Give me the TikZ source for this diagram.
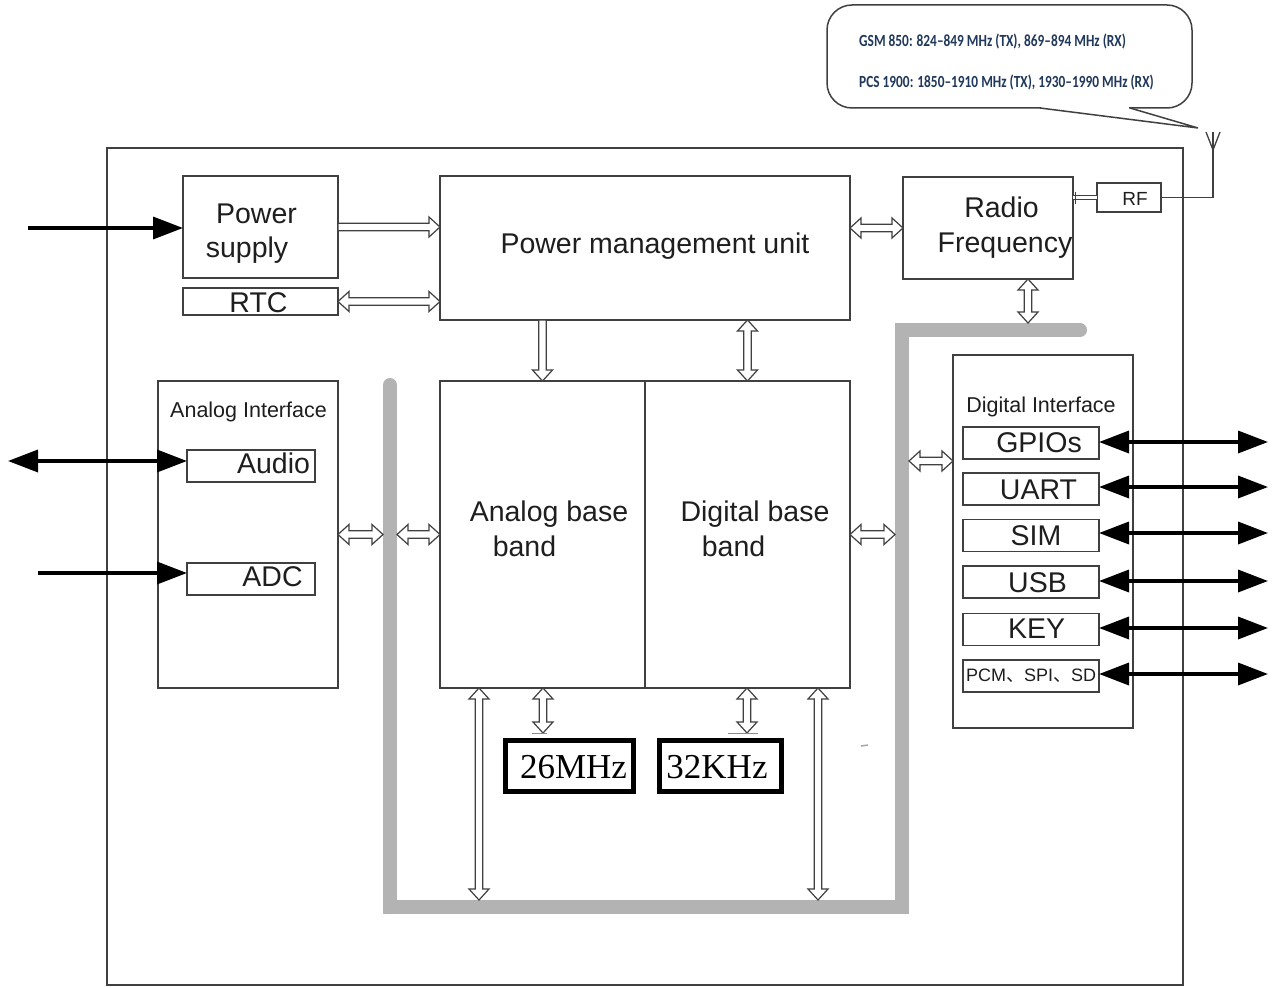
\documentclass[tikz,border=0pt]{standalone}
\usepackage{fontspec}
\usepackage{graphicx}
\setmainfont{Liberation Sans}
\newfontfamily\serifx{Liberation Serif}
\newfontfamily\calib{Carlito}[BoldFont={Carlito Bold}]
\newfontfamily\cjk{Noto Sans CJK SC}
\usetikzlibrary{arrows.meta,calc}
\newcommand\fs[1]{\fontsize{#1}{#1}\selectfont}
\newlength\arrS \setlength\arrS{3.8pt}
\newlength\arrW \setlength\arrW{10pt}
\newlength\arrL \setlength\arrL{11pt}
\definecolor{busgray}{RGB}{179,179,179}
\definecolor{ln}{RGB}{64,64,64}
\definecolor{txt}{RGB}{30,30,30}
\definecolor{navy}{RGB}{32,56,92}
\tikzset{
  box/.style={draw=ln, line width=1.5pt, inner sep=0pt, outer sep=0pt},
  lbl/.style={inner sep=0pt, text=txt, font=\fs{28.5}, text height=20.4pt, text depth=0pt},
  small/.style={inner sep=0pt, text=txt, font=\fs{21.5}, text height=15.4pt, text depth=0pt},
  xtal/.style={draw=black, line width=5pt, inner sep=0pt, outer sep=0pt},
  xlbl/.style={inner sep=0pt, text=black, font=\serifx\fs{35}, text height=23.2pt, text depth=0pt},
  hollow/.style={draw=ln, line width=1.2pt, fill=white, line join=miter},
  blk/.style={line width=3.5pt, draw=black, >={Triangle[length=30pt,width=22pt]}},
  bus/.style={draw=busgray, line width=14pt, line join=miter},
  note/.style={anchor=west, inner sep=0pt, text=navy, font=\calib\bfseries\fs{17}}
}
% horizontal double-headed hollow arrow: #1 left tip, #2 right tip
\newcommand\hdarrow[2]{\draw[hollow] let \p1=(#1), \p2=(#2), \n1={\x2-\x1-2*\arrL} in
  (\x1,\y1) -- ++(\arrL,\arrW) -- ++(0pt,\arrS-\arrW) -- ++(\n1,0pt) -- ++(0pt,\arrW-\arrS)
  -- (\x2,\y1) -- ++(-\arrL,-\arrW) -- ++(0pt,\arrW-\arrS) -- ++(-\n1,0pt) -- ++(0pt,\arrS-\arrW) -- cycle;}
% vertical double-headed hollow arrow: #1 top tip, #2 bottom tip
\newcommand\vdarrow[2]{\draw[hollow] let \p1=(#1), \p2=(#2), \n1={\y1-\y2-2*\arrL} in
  (\x1,\y1) -- ++(\arrW,-\arrL) -- ++(\arrS-\arrW,0pt) -- ++(0pt,-\n1) -- ++(\arrW-\arrS,0pt)
  -- (\x1,\y2) -- ++(-\arrW,\arrL) -- ++(\arrW-\arrS,0pt) -- ++(0pt,\n1) -- ++(\arrS-\arrW,0pt) -- cycle;}
% horizontal single hollow arrow pointing right: #1 tail, #2 tip
\newcommand\hrarrow[2]{\draw[hollow] let \p1=(#1), \p2=(#2) in
  (\x1,\y1+\arrS) -- (\x2-\arrL,\y1+\arrS) -- (\x2-\arrL,\y1+\arrW) -- (\x2,\y1)
  -- (\x2-\arrL,\y1-\arrW) -- (\x2-\arrL,\y1-\arrS) -- (\x1,\y1-\arrS) -- cycle;}
% vertical single hollow arrow pointing down: #1 tail, #2 tip
\newcommand\vdnarrow[2]{\draw[hollow] let \p1=(#1), \p2=(#2) in
  (\x1-\arrS,\y1) -- (\x1-\arrS,\y2+\arrL) -- (\x1-\arrW,\y2+\arrL) -- (\x1,\y2)
  -- (\x1+\arrW,\y2+\arrL) -- (\x1+\arrS,\y2+\arrL) -- (\x1+\arrS,\y1) -- cycle;}
\begin{document}
\begin{tikzpicture}[x=1pt,y=-1pt]
\useasboundingbox (0,0) rectangle (1273,987);
\fill[white] (0,0) rectangle (1273,987);

% outer frame
\node[box, minimum width=1076pt, minimum height=837pt] (frame) at (645,566.5) {};

% callout
\draw[ln, line width=1.5pt, fill=white, rounded corners=25pt] (827,5) rectangle (1192,108);
\fill[white] (1041,104) rectangle (1129,110);
\draw[ln, line width=1.5pt, line join=miter] (1040,108) -- (1198,128) -- (1130,108);
\node[note] (gsm) at (859,41)
  {\scalebox{0.785}[1]{GSM 850: 824–849 MHz (TX), 869–894 MHz (RX)}};
\node[note] (pcs) at (859,82)
  {\scalebox{0.785}[1]{PCS 1900: 1850–1910 MHz (TX), 1930–1990 MHz (RX)}};

% gray bus
\coordinate (busTop) at (390,385);
\coordinate (busBL) at (390,907);
\coordinate (busBR) at (902,907);
\coordinate (busTR) at (902,330);
\coordinate (busEnd) at (1080,330);
\draw[bus, line cap=round] (busTop) -- (busBL);
\draw[bus, line cap=round] (busTR) -- (busEnd);
\draw[bus] (busTop) -- (busBL) -- (busBR) -- (busTR) -- ($(busTR)+(20,0)$);

% boxes
\node[box, minimum width=155pt, minimum height=102pt] (ps) at (260.5,227) {};
\node[box, minimum width=155pt, minimum height=27pt] (rtc) at (260.5,301.5) {};
\node[box, minimum width=410pt, minimum height=144pt] (pmu) at (645,248) {};
\node[box, minimum width=170pt, minimum height=102pt] (rf) at (988,228) {};
\node[box, minimum width=64pt, minimum height=29pt] (rfs) at (1129,197.5) {};
\node[box, minimum width=180pt, minimum height=307pt] (ai) at (248,534.5) {};
\node[box, minimum width=128pt, minimum height=32pt] (audio) at (251,466) {};
\node[box, minimum width=128pt, minimum height=32pt] (adc) at (251,579) {};
\node[box, minimum width=205pt, minimum height=307pt] (abb) at (542.5,534.5) {};
\node[box, minimum width=205pt, minimum height=307pt] (dbb) at (747.5,534.5) {};
\node[box, minimum width=180pt, minimum height=373pt] (di) at (1043,541.5) {};
\node[box, minimum width=136pt, minimum height=32pt] (gpio) at (1031,443) {};
\node[box, minimum width=136pt, minimum height=32pt] (uart) at (1031,489) {};
\node[box, minimum width=136pt, minimum height=32pt] (sim) at (1031,535.5) {};
\node[box, minimum width=136pt, minimum height=32pt] (usb) at (1031,582) {};
\node[box, minimum width=136pt, minimum height=32pt] (key) at (1031,629.5) {};
\node[box, minimum width=136pt, minimum height=32pt] (pcm) at (1031,676) {};
\node[xtal, minimum width=128pt, minimum height=51pt] (x26) at (569.5,766) {};
\node[xtal, minimum width=122pt, minimum height=51pt] (x32) at (720.5,766) {};

% labels
\node[lbl] (tpower) at (256.5,213) {Power};
\node[lbl] (tsupply) at (247,247) {supply};
\node[lbl] (trtc) at (258.5,302.5) {RTC};
\node[lbl] (tpmu) at (655,243.5) {Power management unit};
\node[lbl] (tradio) at (1001.5,207.5) {Radio};
\node[lbl] (tfreq) at (1005,242) {Frequency};
\node[inner sep=0pt, text=txt, font=\fs{19}, text height=13.6pt, text depth=0pt] (trf) at (1135,198.5) {RF};
\node[small] (tai) at (248.5,409.5) {Analog Interface};
\node[lbl] (taudio) at (273.5,463) {Audio};
\node[lbl] (tadc) at (272.5,576.5) {ADC};
\node[lbl] (tabb1) at (549,511) {Analog base};
\node[lbl] (tabb2) at (524.5,546) {band};
\node[lbl] (tdbb1) at (755,511) {Digital base};
\node[lbl] (tdbb2) at (733.5,546) {band};
\node[small] (tdi) at (1041,404.5) {Digital Interface};
\node[lbl] (tgpio) at (1039,442) {GPIOs};
\node[lbl] (tuart) at (1038.5,489.5) {UART};
\node[lbl] (tsim) at (1036,535.5) {SIM};
\node[lbl] (tusb) at (1037.5,582) {USB};
\node[lbl] (tkey) at (1036.5,628) {KEY};
\node[inner sep=0pt, text=txt, font=\fs{18}, text height=12.9pt, text depth=0pt] (tpcm) at (1031,675) {PCM{\cjk 、}SPI{\cjk 、}SD};
\node[xlbl] (t26) at (573.5,766.5) {26MHz};
\node[xlbl] (t32) at (717,766.5) {32KHz};

% black arrows
\coordinate (psL) at (28,228);
\coordinate (audL) at (8,461);
\coordinate (adcL) at (38,573);
\coordinate (dend) at (1268,0);
\draw[blk,->] (psL) -- (ps.west |- psL);
\draw[blk,<->] (audL) -- (audio.west |- audL);
\draw[blk,->] (adcL) -- (adc.west |- adcL);
\foreach \b/\dy in {gpio/-1,uart/-2,sim/-2.5,usb/-1,key/-1.5,pcm/-2}
  \draw[blk,<->] ($(\b.east)+(0,\dy)$) -- ($(\b.east -| dend)+(0,\dy)$);

% hollow arrows
\coordinate (rfbus) at (1028,323);
\coordinate (busA) at (383,534.5);
\coordinate (busB) at (397,534.5);
\coordinate (busC) at (895,534.5);
\coordinate (busD) at (909,461);
\coordinate (bbusA) at (479,900);
\coordinate (bbusB) at (818,900);
\coordinate (x26a) at (543,733);
\coordinate (x32a) at (747,733);
\hrarrow{ps.east}{pmu.west |- ps.east}
\hdarrow{rtc.east}{pmu.west |- rtc.east}
\hdarrow{pmu.east |- rf.west}{rf.west}
\vdarrow{rf.south -| rfbus}{rfbus}
\vdnarrow{abb.north |- pmu.south}{abb.north}
\vdarrow{dbb.north |- pmu.south}{dbb.north}
\hdarrow{ai.east}{busA}
\hdarrow{busB}{abb.west}
\hdarrow{dbb.east}{busC}
\hdarrow{busD}{di.west |- busD}
\vdarrow{abb.south -| bbusA}{bbusA}
\vdarrow{dbb.south -| bbusB}{bbusB}
\vdarrow{abb.south -| x26a}{x26a}
\vdarrow{dbb.south -| x32a}{x32a}

% small marks
\draw[black!45, line width=1pt] ($(x26a)+(-11,0.5)$) -- ($(x26a)+(4,0.5)$);
\draw[black!45, line width=1pt] ($(x32a)+(-19,0.5)$) -- ($(x32a)+(11,0.5)$);
\draw[black!35, line width=1.5pt] (861,746) -- (868,745);

% RF link and antenna
\coordinate (ant) at (1213,197.5);
\coordinate (antTop) at (1213,132);
\coordinate (antJ) at (1213,150);
\draw[ln, line width=1.5pt, double=white, double distance=2.5pt] (rf.east |- rfs.west) -- (rfs.west);
\draw[ln, line width=1.5pt] ($(rf.east |- rfs.west)+(2.5,-6)$) -- ($(rf.east |- rfs.west)+(2.5,6)$);
\draw[ln, line width=1.5pt] (rfs.east) -- (ant) -- (antTop);
\draw[ln, line width=1.3pt] (antJ) -- (1206,132);
\draw[ln, line width=1.3pt] (antJ) -- (1220,132);
\end{tikzpicture}
\end{document}
